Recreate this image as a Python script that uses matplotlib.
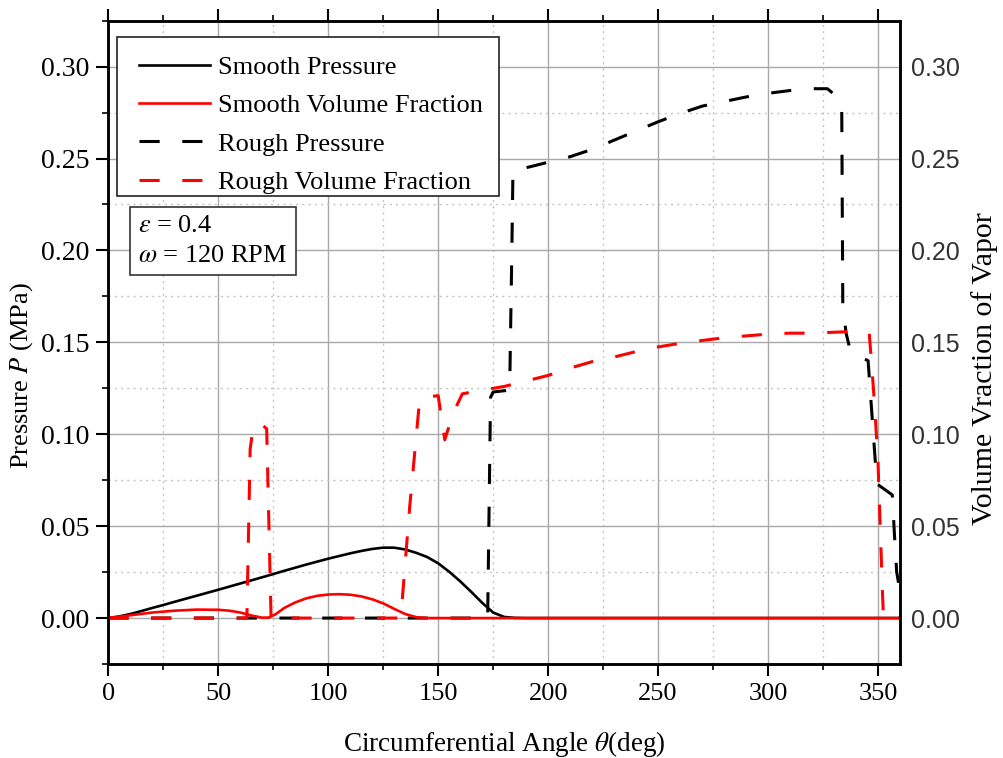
import matplotlib
matplotlib.use("Agg")
import matplotlib.pyplot as plt
from matplotlib.ticker import MultipleLocator, FormatStrFormatter
from matplotlib.lines import Line2D
from matplotlib.patches import Rectangle

# ---------------- data ----------------
theta_sp = [0, 5, 10, 15, 20, 25, 30, 40, 50, 60, 70, 80, 90, 100, 110, 115, 120, 125,
            130, 135, 140, 145, 150, 155, 160, 165, 170, 175, 180, 185, 190, 360]
smooth_p = [0, 0.0009, 0.0022, 0.0038, 0.0055, 0.0071, 0.0088, 0.0121, 0.0154, 0.0188,
            0.0222, 0.0257, 0.0291, 0.0323, 0.0352, 0.0365, 0.0376, 0.0383, 0.0383,
            0.0373, 0.0355, 0.0332, 0.0298, 0.0252, 0.0200, 0.0143, 0.0083, 0.0030,
            0.0006, 0.0001, 0, 0]

theta_sv = [0, 10, 20, 30, 40, 50, 55, 60, 65, 70, 73, 76, 80, 85, 90, 95, 100, 105,
            110, 115, 120, 125, 130, 135, 140, 145, 360]
smooth_v = [0, 0.0015, 0.0030, 0.0040, 0.0046, 0.0045, 0.0040, 0.0030, 0.0014, 0.0002,
            0.0003, 0.0020, 0.0055, 0.0085, 0.0107, 0.0121, 0.0128, 0.0130, 0.0127,
            0.0118, 0.0102, 0.0080, 0.0050, 0.0022, 0.0005, 0, 0]

theta_rp = [0, 172.5, 173.8, 175, 182.5, 183.5, 184, 190, 200, 210, 220, 230, 240, 250,
            260, 270, 280, 290, 300, 310, 320, 327, 330, 333.5, 334, 335.5, 337.5,
            345.5, 349.5, 356.5, 357.5, 358.5, 359.5]
rough_p = [0, 0, 0.120, 0.123, 0.124, 0.200, 0.243, 0.245, 0.248, 0.251, 0.255, 0.260,
           0.265, 0.270, 0.2745, 0.2785, 0.281, 0.2835, 0.2855, 0.287, 0.288, 0.288,
           0.285, 0.280, 0.170, 0.155, 0.145, 0.140, 0.073, 0.067, 0.045, 0.025, 0.018]

theta_rv = [0, 63, 64.5, 66, 70, 72, 74, 133, 137, 141.5, 143, 150, 153, 157, 161, 170,
            180, 190, 200, 210, 220, 230, 240, 250, 260, 270, 280, 290, 300, 310, 320,
            330, 340, 346, 347, 348.5, 350, 351, 352, 352.5, 360]
rough_v = [0, 0, 0.092, 0.105, 0.105, 0.103, 0, 0, 0.060, 0.118, 0.120, 0.121, 0.097,
           0.112, 0.122, 0.124, 0.126, 0.129, 0.132, 0.136, 0.1395, 0.142, 0.145, 0.1475,
           0.1495, 0.151, 0.1525, 0.1535, 0.1545, 0.155, 0.155, 0.1555, 0.156, 0.155,
           0.140, 0.115, 0.085, 0.050, 0.015, 0, 0]

x_ticks = [0, 50, 100, 150, 200, 250, 300, 350]
y_ticks = [0.00, 0.05, 0.10, 0.15, 0.20, 0.25, 0.30]
legend_labels = ["Smooth Pressure", "Smooth Volume Fraction", "Rough Pressure",
                 "Rough Volume Fraction"]

# ---------------- style ----------------
SERIF = "Liberation Serif"
SANS = "Liberation Sans"
plt.rcParams["font.family"] = [SERIF, "DejaVu Serif"]
plt.rcParams["mathtext.fontset"] = "stix"

fig = plt.figure(figsize=(10.04, 7.58), dpi=100)
ax = fig.add_axes([0.1079, 0.124, 0.7885, 0.8487])
ax2 = ax.twinx()

LW_S = 1.9
LW_D = 2.2
DASH = (6.6, 7.4)

l1, = ax.plot(theta_sp, smooth_p, color="black", lw=LW_S, solid_joinstyle="round")
l3, = ax.plot(theta_rp, rough_p, color="black", lw=LW_D, dashes=DASH,
              dash_capstyle="butt")
l2, = ax2.plot(theta_sv, smooth_v, color="#ff0000", lw=LW_S, solid_joinstyle="round")
l4, = ax2.plot(theta_rv, rough_v, color="#ff0000", lw=LW_D, dashes=DASH,
               dash_capstyle="butt")

for a in (ax, ax2):
    a.set_xlim(0, 360)
    a.set_ylim(-0.025, 0.325)

ax.set_xticks(x_ticks)
ax.xaxis.set_minor_locator(MultipleLocator(25))
ax.set_yticks(y_ticks)
ax.yaxis.set_minor_locator(MultipleLocator(0.025))
ax.yaxis.set_major_formatter(FormatStrFormatter("%.2f"))
ax2.set_yticks(y_ticks)
ax2.yaxis.set_major_formatter(FormatStrFormatter("%.2f"))

ax.grid(which="major", color="#a8a8a8", lw=1.0, ls="-")
ax.grid(which="minor", color="#c4c4c4", lw=1.0, ls=(0, (1.5, 3)))
ax.set_axisbelow(True)

ax.tick_params(which="major", direction="out", length=8.5, width=1.5,
               top=True, right=False, labelsize=19, pad=5)
ax.tick_params(axis="y", which="major", labelsize=20)
ax.tick_params(which="minor", direction="out", length=4.5, width=1.2,
               top=True, right=False)
ax2.tick_params(axis="y", which="both", length=0, pad=8, labelsize=18,
                labelcolor="#333333")
for lab in ax2.get_yticklabels():
    lab.set_fontfamily(SANS)

for a in (ax, ax2):
    for s in a.spines.values():
        s.set_linewidth(1.8)

fig.text(0.021, 0.504, "Pressure $P$ (MPa)", rotation=90, ha="center", va="center",
         fontsize=19)
fig.text(0.981, 0.514, "Volume Vraction of Vapor", rotation=90, ha="center",
         va="center", fontsize=21.5)
fig.text(0.502, 0.018, r"Circumferential Angle $\theta$(deg)", ha="center",
         va="center", fontsize=19.5)

# legend frame drawn as a separate box, legend itself frameless
frame = Rectangle((0.011, 0.7275), 0.4825, 0.2472, transform=ax2.transAxes,
                  facecolor="white", edgecolor="#222222", lw=1.2, zorder=4)
ax2.add_patch(frame)
handles = [Line2D([], [], color="black", lw=LW_S),
           Line2D([], [], color="#ff0000", lw=LW_S),
           Line2D([], [], color="black", lw=LW_D, dashes=DASH),
           Line2D([], [], color="#ff0000", lw=LW_D, dashes=DASH)]
leg = ax2.legend(handles, legend_labels, loc="upper left",
                 bbox_to_anchor=(0.0388, 0.9454), borderaxespad=0, fontsize=19,
                 frameon=False, handlelength=2.7, handletextpad=0.3,
                 labelspacing=0.557, borderpad=0)
leg.set_zorder(5)

ax2.text(0.038, 0.698, "$\\varepsilon$ = 0.4\n$\\omega$ = 120 RPM",
         transform=ax2.transAxes, ha="left", va="top", fontsize=19,
         linespacing=1.45, zorder=6,
         bbox=dict(boxstyle="square,pad=0.3", fc="white", ec="#333333", lw=1.2))

fig.savefig("out.png", dpi=100)
